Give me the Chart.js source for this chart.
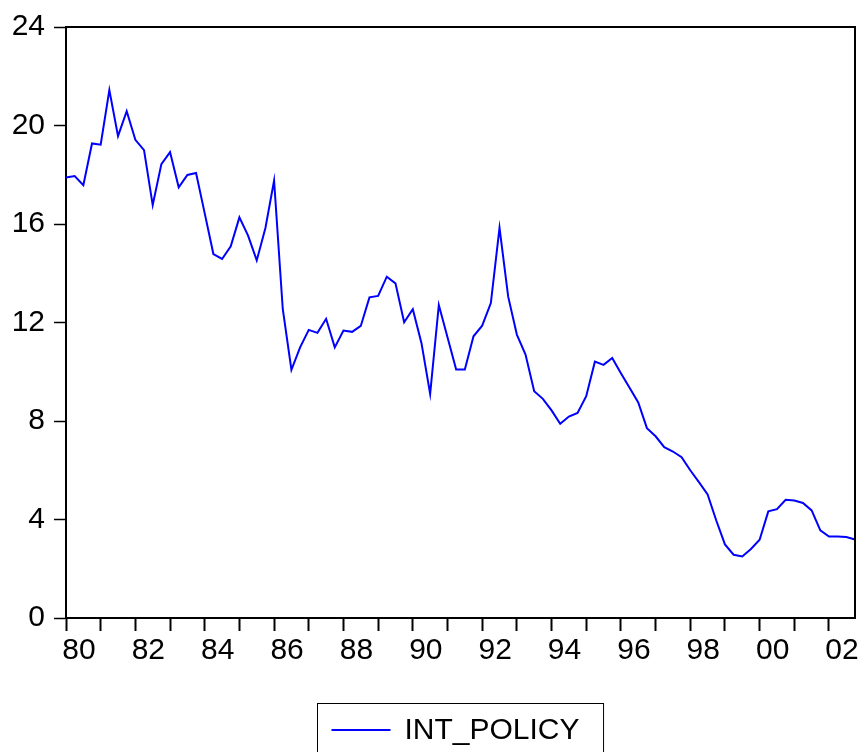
<!DOCTYPE html>
<html>
<head>
<meta charset="utf-8">
<script src="https://cdn.jsdelivr.net/npm/chart.js@4.4.0/dist/chart.umd.min.js"></script>
<style>
html,body{margin:0;padding:0;background:#fff;}
#c{display:block;}
</style>
</head>
<body>
<canvas id="c" width="859" height="752"></canvas>
<script>
// ---- data ----
const years = [1980,1981,1982,1983,1984,1985,1986,1987,1988,1989,1990,1991,
               1992,1993,1994,1995,1996,1997,1998,1999,2000,2001,2002];
const quarterNames = ['Q1','Q2','Q3','Q4'];
const quarterLabels = years.flatMap(y => quarterNames.map(q => y + q));
const xTickLabels = ['80','82','84','86','88','90','92','94','96','98','00','02'];
const yTicks = [0, 4, 8, 12, 16, 20, 24];
const seriesName = 'INT_POLICY';
const intPolicy = [
  17.89, 17.95, 17.58, 19.27,   // 1980
  19.22, 21.44, 19.57, 20.58,   // 1981
  19.42, 19.00, 16.77, 18.43,   // 1982
  18.92, 17.49, 17.99, 18.07,   // 1983
  16.43, 14.78, 14.58, 15.09,   // 1984
  16.27, 15.53, 14.52, 15.84,   // 1985
  17.76, 12.55, 10.08, 10.99,   // 1986
  11.70, 11.58, 12.15, 10.99,   // 1987
  11.67, 11.62, 11.86, 13.02,   // 1988
  13.08, 13.86, 13.59, 12.01,   // 1989
  12.54, 11.16,  9.10, 12.71,   // 1990
  11.40, 10.09, 10.09, 11.44,   // 1991
  11.87, 12.79, 15.84, 13.05,   // 1992
  11.51, 10.70,  9.21,  8.90,   // 1993
   8.43,  7.89,  8.18,  8.33,   // 1994
   9.01, 10.41, 10.28, 10.56,   // 1995
   9.94,  9.35,  8.75,  7.71,   // 1996
   7.38,  6.94,  6.76,  6.53,   // 1997
   6.00,  5.52,  5.02,  3.96,   // 1998
   2.99,  2.57,  2.50,  2.80,   // 1999
   3.18,  4.33,  4.42,  4.80,   // 2000
   4.77,  4.67,  4.37,  3.56,   // 2001
   3.31,  3.31,  3.29,  3.19    // 2002
];

// ---- styling ----
const FONT = "'Liberation Sans', Arial, Helvetica, sans-serif";
const LINE_BLUE = '#0000ff';

const framePlugin = {
  id: 'frame',
  afterDraw(chart) {
    const {ctx, chartArea: a} = chart;
    ctx.save();
    ctx.strokeStyle = '#000';
    ctx.lineWidth = 2;
    ctx.beginPath();
    ctx.moveTo(a.left - 1, a.top);
    ctx.lineTo(a.right, a.top);
    ctx.lineTo(a.right, a.bottom + 1);
    ctx.stroke();
    ctx.restore();
  }
};

const boxLegendPlugin = {
  id: 'boxLegend',
  afterDraw(chart) {
    const {ctx, chartArea: a} = chart;
    const ds = chart.data.datasets[0];
    ctx.save();
    ctx.font = '30px ' + FONT;
    const tw = ctx.measureText(ds.label).width;
    const lineLen = 59, gap = 14, padL = 14, padR = 24;
    const w = padL + lineLen + gap + tw + padR;
    const cx = (a.left + a.right) / 2;
    const left = Math.round(cx - w / 2) + 0.5;
    const top = a.bottom + 85.5;
    ctx.strokeStyle = '#000';
    ctx.lineWidth = 1;
    ctx.strokeRect(left, top, w, 100);
    const ly = a.bottom + 112;
    ctx.strokeStyle = ds.borderColor;
    ctx.lineWidth = 2;
    ctx.beginPath();
    ctx.moveTo(left + padL, ly);
    ctx.lineTo(left + padL + lineLen, ly);
    ctx.stroke();
    ctx.fillStyle = '#000';
    ctx.textBaseline = 'alphabetic';
    ctx.textAlign = 'left';
    ctx.fillText(ds.label, left + padL + lineLen + gap, a.bottom + 120.5);
    ctx.restore();
  }
};

new Chart(document.getElementById('c'), {
  type: 'line',
  data: {
    labels: quarterLabels,
    datasets: [{
      label: seriesName,
      data: intPolicy,
      borderColor: LINE_BLUE,
      backgroundColor: LINE_BLUE,
      borderWidth: 2,
      pointRadius: 0,
      tension: 0,
      fill: false
    }]
  },
  options: {
    responsive: false,
    devicePixelRatio: 1,
    animation: false,
    layout: { padding: { left: 0, right: 4, top: 26, bottom: 70 } },
    plugins: {
      legend: { display: false },
      tooltip: { enabled: false },
      title: { display: false }
    },
    scales: {
      x: {
        type: 'category',
        offset: false,
        afterFit(scale) { scale.height = 64; },
        grid: {
          drawOnChartArea: false,
          drawTicks: true,
          tickLength: 13,
          tickWidth: 2,
          tickColor: (c) => (c.index % 4 === 0 ? '#000' : 'rgba(0,0,0,0)')
        },
        border: { display: true, color: '#000', width: 2 },
        ticks: {
          autoSkip: false,
          maxRotation: 0,
          minRotation: 0,
          padding: 2,
          labelOffset: 13,
          color: '#000',
          font: { family: FONT, size: 30 },
          callback: (v, i) => (i % 8 === 0 ? xTickLabels[i / 8] : '')
        }
      },
      y: {
        type: 'linear',
        min: 0,
        max: 24,
        afterFit(scale) { scale.width = 66; },
        afterBuildTicks(scale) { scale.ticks = yTicks.map(v => ({ value: v })); },
        grid: {
          drawOnChartArea: false,
          drawTicks: true,
          tickLength: 12,
          tickWidth: 1.5,
          tickColor: '#000'
        },
        border: { display: true, color: '#000', width: 2 },
        ticks: {
          padding: 9,
          color: '#000',
          font: { family: FONT, size: 30 }
        }
      }
    }
  },
  plugins: [framePlugin, boxLegendPlugin]
});
</script>
</body>
</html>
